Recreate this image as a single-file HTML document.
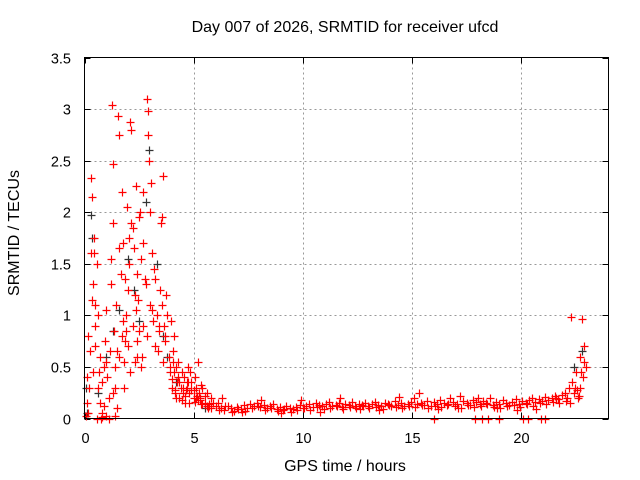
<!DOCTYPE html>
<html><head><meta charset="utf-8"><style>
body{margin:0;background:#fff}
svg{display:block;font-family:"Liberation Sans",sans-serif}
</style></head><body>
<svg id="chart" width="640" height="480" viewBox="0 0 640 480" xmlns="http://www.w3.org/2000/svg">
<rect width="640" height="480" fill="#fff"/>
<text x="345" y="32" font-size="16" text-anchor="middle">Day 007 of 2026, SRMTID for receiver ufcd</text>
<text x="345" y="471" font-size="16" text-anchor="middle">GPS time / hours</text>
<text transform="translate(19,233) rotate(-90)" font-size="16" text-anchor="middle">SRMTID / TECUs</text>
<g id="grid"></g>
<g id="ticks"></g>
<g id="black"></g>
<g id="red"></g>
<rect x="84.5" y="57.5" width="524" height="361" fill="none" stroke="#000" stroke-width="1"/>
</svg>
<script>
const xTicks=[0,5,10,15,20];
const yTicks=[0,0.5,1,1.5,2,2.5,3,3.5];
const yTickLabels=["0","0.5","1","1.5","2","2.5","3","3.5"];
const redTimes=[0.05,0.1,0.1,0.15,0.2,0.25,0.3,0.3,0.35,0.35,0.4,0.4,0.45,0.5,0.5,0.55,0.6,0.6,0.7,0.7,0.8,0.8,0.9,0.95,1.0,1.0,1.05,1.1,1.15,1.2,1.2,1.25,1.3,1.3,1.35,1.4,1.4,1.45,1.5,1.5,1.55,1.6,1.6,1.65,1.7,1.7,1.75,1.8,1.8,1.85,1.9,1.95,2.0,2.0,2.05,2.1,2.15,2.15,2.2,2.2,2.25,2.3,2.3,2.35,2.4,2.4,2.5,2.5,2.55,2.6,2.6,2.7,2.7,2.75,2.8,2.85,2.9,2.9,2.95,3.0,3.0,3.05,3.1,3.15,3.2,3.25,3.3,3.35,3.4,3.5,3.55,3.55,3.6,3.6,3.7,3.75,3.8,3.85,3.9,3.95,4.0,4.05,4.1,4.15,4.2,4.25,4.3,4.35,4.4,4.45,4.5,4.55,4.6,4.7,4.75,4.8,4.9,5.0,5.05,5.1,5.2,5.25,5.3,5.4,5.5,5.6,5.7,5.8,5.9,6.0,0.55,0.75,0.8,1.1,1.4,0.65,1.9,2.45,2.65,3.45,3.65,4.05,4.35,4.65,4.85,5.15,5.35,0.15,0.45,1.75,2.05,2.35,2.85,3.25,
0.5,0.9,1.0,1.3,1.6,1.85,2.1,2.4,2.7,3.1,3.4,3.7,3.9,4.1,4.3,4.5,4.7,4.9,5.1,5.3,5.5,5.7,4.0,4.2,4.4,4.6,4.8,5.0,5.2,5.4,5.6,5.8,4.15,4.45,4.75,5.05,5.35,5.65,
6.1,6.25,6.4,6.55,6.7,6.85,7.0,7.15,7.3,7.45,7.6,7.75,7.9,8.05,8.2,8.35,8.5,8.65,8.8,8.95,9.1,9.25,9.4,9.55,9.7,9.85,10.0,10.15,10.3,10.45,10.6,10.75,10.9,11.05,11.2,11.35,11.5,11.65,11.8,11.95,12.1,12.25,12.4,12.55,12.7,12.85,13.0,13.15,13.3,13.45,13.6,13.75,13.9,14.05,14.2,14.35,14.5,14.65,14.8,14.95,15.1,15.25,15.4,15.55,15.7,15.85,16.0,16.15,16.3,16.45,16.6,16.75,16.9,17.05,17.2,17.35,17.5,17.65,17.8,17.95,18.1,18.25,18.4,18.55,18.7,18.85,19.0,19.15,19.3,19.45,19.6,19.75,19.9,20.05,20.2,20.35,20.5,20.65,20.8,20.95,21.1,21.25,21.4,21.55,21.7,21.85,22.0,
6.15,6.45,6.75,7.05,7.35,7.65,7.95,8.25,8.55,8.85,9.15,9.45,9.75,10.05,10.35,10.65,10.95,11.25,11.55,11.85,12.15,12.45,12.75,13.05,13.35,13.65,13.95,14.25,14.55,14.85,15.15,15.45,15.75,16.05,16.35,16.65,16.95,17.25,17.55,17.85,18.15,18.45,18.75,19.05,19.35,19.65,19.95,20.25,20.55,20.85,21.15,21.45,21.75,22.05,
6.3,7.2,8.1,9.0,9.9,10.8,11.7,12.6,13.5,14.4,15.3,16.2,17.1,18.0,18.9,19.8,20.7,21.6,
16.0,17.9,18.2,18.5,19.0,20.1,20.3,20.9,21.1,
22.1,22.2,22.3,22.4,22.5,22.6,22.7,22.7,22.8,22.85,22.9,22.95,22.35,22.55,22.25,22.45,22.65,22.75,22.9];
const redValues=[0.02,0.15,0.4,0.05,0.3,0.65,2.33,1.6,2.15,1.15,1.3,0.45,1.75,1.1,0.9,1.5,1.0,0.3,0.15,0.6,0.35,0.05,0.5,0.75,0.02,1.05,0.4,0.2,0.65,1.55,1.3,3.04,2.47,1.9,0.85,0.5,0.3,1.1,0.65,0.1,2.93,2.75,1.65,1.4,2.2,0.8,1.7,0.55,0.3,1.35,1.0,2.05,0.7,1.25,1.5,2.87,2.8,1.9,1.85,0.9,1.65,0.55,1.2,1.05,1.4,0.75,0.85,1.95,2.0,1.55,0.5,1.7,2.2,1.35,1.3,3.1,2.98,2.75,2.5,2.0,1.1,2.28,1.6,0.95,1.45,0.7,1.0,0.65,0.9,1.9,1.95,1.1,2.35,0.55,0.75,1.2,1.0,0.6,0.45,0.95,0.3,0.55,0.8,0.25,0.5,0.35,0.4,0.2,0.3,0.45,0.25,0.4,0.15,0.3,0.5,0.25,0.35,0.2,0.4,0.3,0.55,0.25,0.2,0.3,0.15,0.25,0.12,0.2,0.15,0.12,0.0,0.0,0.01,0.0,0.02,0.45,0.85,1.15,0.6,1.25,0.9,0.65,0.35,0.28,0.45,0.22,0.32,0.8,1.6,0.95,1.75,2.25,0.8,1.35,
0.7,0.12,0.55,0.25,0.6,0.75,0.45,0.6,0.9,1.05,0.85,0.8,0.5,0.45,0.55,0.3,0.35,0.28,0.2,0.18,0.22,0.14,0.38,0.2,0.3,0.22,0.15,0.28,0.18,0.14,0.12,0.1,0.28,0.18,0.35,0.16,0.14,0.1,
0.15,0.1,0.08,0.12,0.1,0.07,0.11,0.09,0.13,0.1,0.14,0.12,0.15,0.11,0.13,0.1,0.12,0.14,0.09,0.11,0.08,0.12,0.1,0.09,0.11,0.13,0.1,0.12,0.14,0.11,0.15,0.13,0.12,0.14,0.16,0.12,0.13,0.15,0.11,0.14,0.13,0.16,0.12,0.14,0.13,0.15,0.12,0.14,0.16,0.13,0.12,0.15,0.14,0.12,0.17,0.13,0.15,0.12,0.14,0.16,0.2,0.14,0.15,0.13,0.17,0.12,0.16,0.14,0.18,0.15,0.13,0.2,0.16,0.14,0.22,0.17,0.15,0.13,0.18,0.16,0.14,0.17,0.15,0.2,0.13,0.16,0.14,0.18,0.15,0.13,0.16,0.19,0.14,0.17,0.15,0.18,0.2,0.16,0.19,0.17,0.21,0.18,0.2,0.22,0.19,0.23,0.25,
0.08,0.12,0.06,0.09,0.07,0.1,0.12,0.08,0.1,0.07,0.09,0.06,0.08,0.1,0.08,0.11,0.09,0.1,0.12,0.09,0.11,0.1,0.12,0.1,0.11,0.09,0.13,0.11,0.1,0.12,0.11,0.13,0.1,0.12,0.11,0.14,0.12,0.1,0.13,0.11,0.12,0.14,0.11,0.1,0.12,0.13,0.11,0.14,0.12,0.15,0.14,0.16,0.15,0.17,
0.2,0.06,0.18,0.05,0.18,0.06,0.2,0.09,0.08,0.21,0.25,0.09,0.1,0.2,0.1,0.08,0.09,0.2,
0.0,0.0,0.0,0.0,0.0,0.0,0.0,0.0,0.0,
0.2,0.3,0.98,0.25,0.45,0.2,0.6,0.3,0.96,0.4,0.7,0.5,0.35,0.28,0.15,0.3,0.22,0.45,0.55];
const blackTimes=[0.05,0.1,0.3,0.35,0.6,1.0,1.6,2.0,2.5,2.8,2.95,3.3,3.6,3.8,4.2,5.5,22.4,22.8,1.3,2.25];
const blackValues=[0.3,0.05,1.97,1.75,0.25,0.6,1.05,1.55,0.95,2.1,2.6,1.5,0.8,0.6,0.35,0.1,0.5,0.65,0.85,1.25];

const X0=84.5,X1=608.5,Y0=418.5,Y1=57.5;
const xs=t=>X0+t/24*(X1-X0);
const ys=v=>Y0-v/3.5*(Y0-Y1);
const NS="http://www.w3.org/2000/svg";
const grid=document.getElementById('grid'),ticks=document.getElementById('ticks');
function ln(p,x1,y1,x2,y2,st,dash){const l=document.createElementNS(NS,'line');l.setAttribute('x1',x1);l.setAttribute('y1',y1);l.setAttribute('x2',x2);l.setAttribute('y2',y2);l.setAttribute('stroke',st);if(dash)l.setAttribute('stroke-dasharray',dash);p.appendChild(l);return l;}
function tx(p,x,y,s,anchor){const t=document.createElementNS(NS,'text');t.setAttribute('x',x);t.setAttribute('y',y);t.setAttribute('font-size','14.5');t.setAttribute('text-anchor',anchor);t.textContent=s;p.appendChild(t);return t;}
xTicks.forEach(t=>{const x=Math.round(xs(t))+0.5;
 if(t>0){const g=ln(grid,x,Y1,x,Y0,'#999','2,3');
 
 }
 ln(ticks,x,Y0,x,Y0-6,'#000');ln(ticks,x,Y1,x,Y1+6,'#000');
 const l=tx(ticks,x,443,String(t),'middle');
 
 });
yTicks.forEach((v,i)=>{const y=Math.round(ys(v))+0.5;
 if(v>0&&v<3.5){const g=ln(grid,X0,y,X1,y,'#999','2,3');
 
 }
 ln(ticks,X0,y,X0+6,y,'#000');ln(ticks,X1,y,X1-6,y,'#000');
 const l=tx(ticks,71,y+5,yTickLabels[i],'end');
 
 });
function plot(id,T,V,col){const g=document.getElementById(id);let d='';
 for(let i=0;i<T.length;i++){const x=Math.round(xs(T[i]))+0.5,y=Math.round(ys(V[i]))+0.5;d+=`M${x-4} ${y}H${x+4}M${x} ${y-4}V${y+4}`;}
 const p=document.createElementNS(NS,'path');p.setAttribute('d',d);p.setAttribute('stroke',col);p.setAttribute('stroke-width','1.2');p.setAttribute('fill','none');
 
 
 g.appendChild(p);}
plot('black',blackTimes,blackValues,'#333');
plot('red',redTimes,redValues,'#f00');
</script>
</body></html>
